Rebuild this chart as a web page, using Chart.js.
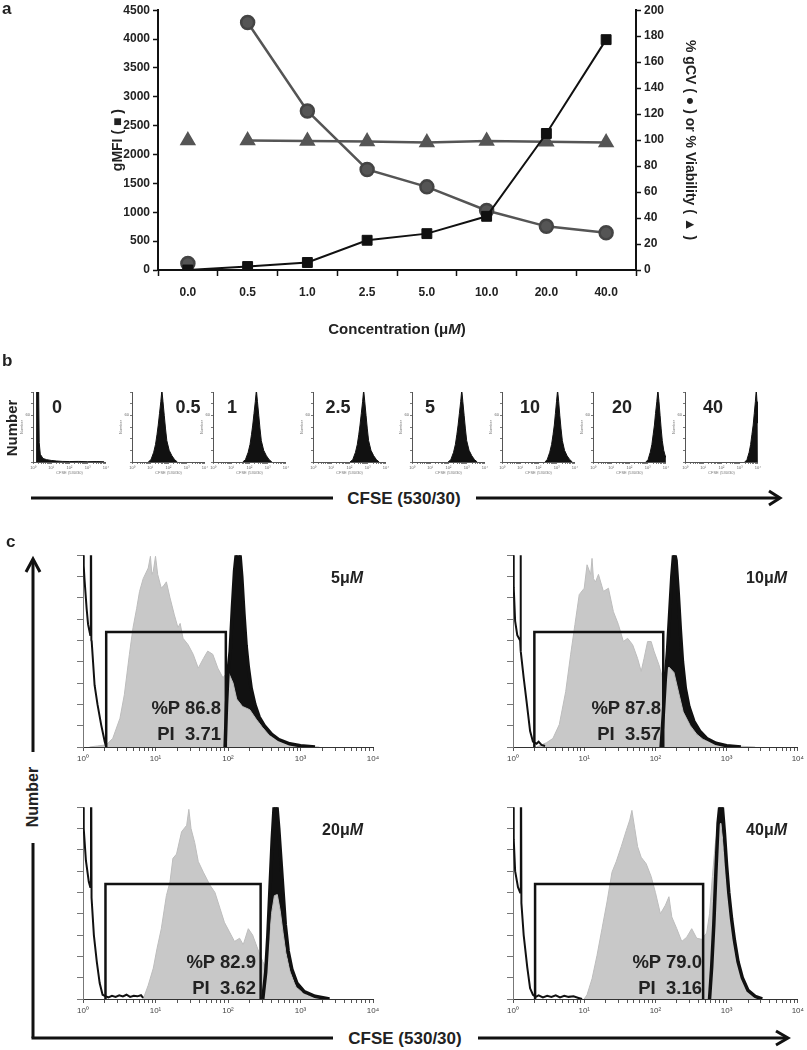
<!DOCTYPE html>
<html>
<head>
<meta charset="utf-8">
<script src="https://cdn.jsdelivr.net/npm/chart.js@4.4.1/dist/chart.umd.min.js"></script>
<style>
  body { margin: 0; background: #fff; }
  #fig { position: relative; width: 807px; height: 1050px; overflow: hidden; font-family: "Liberation Sans", Arial, sans-serif; color: #222; }
  #fig canvas { position: absolute; }
  .t { position: absolute; font-weight: bold; white-space: nowrap; line-height: 1; }
  .c { transform: translate(-50%, -50%); }
  .r { transform: translate(-100%, -50%); text-align: right; }
  .rot { transform: translate(-50%, -50%) rotate(-90deg); }
  svg { position: absolute; left: 0; top: 0; }
</style>
</head>
<body>
<div id="fig">
  <canvas id="chartA" width="807" height="320" style="left:0;top:0"></canvas>
  <div class="t" style="left:2px;top:0;font-size:17px">a</div>
  <div class="t c" style="left:397px;top:328px;font-size:15px">Concentration (μ<i>M</i>)</div>

  <div class="t" style="left:2px;top:352px;font-size:17px">b</div>
  <div class="t rot" style="left:11px;top:428px;font-size:15px">Number</div>
  <div class="t c" style="left:404px;top:498px;font-size:17px">CFSE (530/30)</div>

  <div class="t" style="left:6px;top:533px;font-size:17px">c</div>
  <div class="t rot" style="left:33px;top:797px;font-size:16px">Number</div>
  <div class="t c" style="left:405px;top:1038px;font-size:17px">CFSE (530/30)</div>

  <svg width="807" height="1050">
    <g stroke="#111" stroke-width="3" fill="none">
      <line x1="31" y1="498" x2="333" y2="498"/>
      <line x1="476" y1="498" x2="779" y2="498"/>
      <polyline points="769,491 780,498 769,505"/>
      <line x1="33" y1="562" x2="33" y2="752"/>
      <polyline points="26,572 33,559 40,572"/>
      <line x1="33" y1="843" x2="33" y2="1038"/>
      <line x1="31.5" y1="1038" x2="333" y2="1038"/>
      <line x1="478" y1="1038" x2="787" y2="1038"/>
      <polyline points="776,1031 788,1038 776,1045"/>
    </g>
  </svg>
</div>

<script>
// ---------- panel a ----------
const concLabels = ["0.0", "0.5", "1.0", "2.5", "5.0", "10.0", "20.0", "40.0"];
const gmfi = [0, 60, 130, 515, 630, 930, 2365, 3990];
const gcv = [5, 190.5, 122.4, 77.4, 64, 45.8, 33.6, 28.6];
const viability = [99.6, 99.6, 99.4, 98.9, 98.1, 99.4, 98.7, 98.1];

// ---------- panel b ----------
const bLabels = ["0", "0.5", "1", "2.5", "5", "10", "20", "40"];
// histogram points: [log10 CFSE, count]
const b0 = [[0.17,0],[0.2,18.5],[0.31,18.5],[0.34,5],[0.4,2],[0.55,0.9],[0.75,0.6],[1.0,0.4],[1.3,0.25],[1.6,0.15],[2.0,0.12],[2.5,0.15],[3.0,0.08],[3.5,0.12],[3.9,0.05]];
const b1 = [[0.89,0],[1.04,0.6],[1.19,2.5],[1.29,4.5],[1.37,7],[1.44,9.5],[1.51,12.5],[1.58,15.5],[1.64,18.5],[1.7,15.5],[1.77,12],[1.84,8.5],[1.91,5.5],[2.04,3],[2.19,1.6],[2.34,0.6],[2.49,0]];
const b2 = [[1.63,0],[1.78,0.6],[1.93,2.5],[2.03,4.5],[2.11,7],[2.18,9.5],[2.25,12.5],[2.32,15.5],[2.38,18.5],[2.44,15.5],[2.51,12],[2.58,8.5],[2.65,5.5],[2.78,3],[2.93,1.6],[3.08,0.6],[3.23,0]];
const b3 = [[2.03,0],[2.18,0.6],[2.33,2.5],[2.43,4.5],[2.51,7],[2.58,9.5],[2.65,12.5],[2.72,15.5],[2.78,18.5],[2.84,15.5],[2.91,12],[2.98,8.5],[3.05,5.5],[3.18,3],[3.33,1.6],[3.48,0.6],[3.63,0]];
const b4 = [[1.98,0],[2.13,0.6],[2.28,2.5],[2.38,4.5],[2.46,7],[2.53,9.5],[2.6,12.5],[2.67,15.5],[2.73,18.5],[2.79,15.5],[2.86,12],[2.93,8.5],[3.0,5.5],[3.13,3],[3.28,1.6],[3.43,0.6],[3.58,0]];
const b5 = [[2.35,0],[2.48,0.6],[2.62,2.5],[2.72,4.5],[2.8,7],[2.87,9.5],[2.93,12.5],[2.99,15.5],[3.05,18.5],[3.11,15.5],[3.17,12],[3.24,8.5],[3.31,5.5],[3.43,3],[3.57,1.6],[3.72,0.6],[3.86,0]];
const b6 = [[2.9,0],[3.02,0.6],[3.14,2.5],[3.23,4.5],[3.3,7],[3.37,9.5],[3.43,12.5],[3.5,15.5],[3.56,18.5],[3.62,15.5],[3.68,12],[3.74,8.5],[3.8,5.5],[3.88,3],[3.96,1.6],[4.0,1.2]];
const b7 = [[3.28,0],[3.4,0.6],[3.52,2.5],[3.6,4.5],[3.67,7],[3.74,9.5],[3.8,12.5],[3.86,15.5],[3.91,18.5],[3.95,15.5],[3.98,12.5],[4.0,10]];

// ---------- panel c ----------
const cLabels = ["5", "10", "20", "40"];
const pctP = ["86.8", "87.8", "82.9", "79.0"];
const pi = ["3.71", "3.57", "3.62", "3.16"];
const gateLo = [0.32, 0.30, 0.31, 0.31];
const gateHi = [1.97, 2.11, 2.45, 2.67];
const gateTop = [10.8, 10.8, 10.8, 10.8];

const gray5 = [[0.09,0],[0.2,0.1],[0.32,0.2],[0.41,0.8],[0.51,2.7],[0.57,4.9],[0.64,8.7],[0.69,11.2],[0.74,13],[0.78,14.6],[0.83,15.8],[0.9,16.8],[0.93,17.9],[0.95,16.2],[0.97,16.5],[1.0,17.9],[1.03,16.2],[1.08,14.9],[1.12,15.2],[1.15,15.5],[1.2,14],[1.26,12.4],[1.31,11.2],[1.34,11.6],[1.38,10.2],[1.45,9.6],[1.52,8.7],[1.59,7.4],[1.66,8.3],[1.72,9.0],[1.79,8.7],[1.86,7.4],[1.93,6.5],[2.0,7.1],[2.07,6],[2.12,4.5],[2.2,3.8],[2.3,3.5],[2.39,2.6],[2.48,1.8],[2.57,1.1],[2.7,0.6],[2.85,0.25],[3.03,0.1],[3.26,0]];
const ctrl5 = [[1.96,0],[1.98,4],[2.0,7],[2.03,9],[2.06,13],[2.09,16.5],[2.12,18.5],[2.16,18.5],[2.19,16],[2.22,12.5],[2.25,9.5],[2.28,7.5],[2.32,5.5],[2.37,4],[2.43,2.8],[2.5,2],[2.6,1.2],[2.7,0.7],[2.85,0.3],[3.0,0.12],[3.2,0]];
const debris5 = [[0.0,30],[0.01,17],[0.02,15.8],[0.05,13],[0.07,11.5],[0.1,10.5],[0.108,30],[0.115,10],[0.12,9.9],[0.16,5.8],[0.2,4],[0.25,2.1],[0.3,0.5],[0.32,0]];

const gray10 = [[0.33,0],[0.47,0.4],[0.56,0.8],[0.65,2.1],[0.74,5.2],[0.81,8.7],[0.87,11.5],[0.93,14.3],[1.0,14.9],[1.04,17.1],[1.09,16.2],[1.11,17.7],[1.13,15.8],[1.16,15.5],[1.2,16.2],[1.27,14.6],[1.34,14.9],[1.41,12.7],[1.48,11.5],[1.55,9.9],[1.61,10.2],[1.68,9.6],[1.75,8.3],[1.8,7.1],[1.84,8.3],[1.89,9.9],[1.94,9.9],[1.98,9],[2.05,7.7],[2.1,6.5],[2.14,7.1],[2.19,7.5],[2.26,7],[2.33,5],[2.39,3.3],[2.49,2],[2.58,1.2],[2.67,0.7],[2.85,0.3],[3.13,0.1],[3.4,0]];
const ctrl10 = [[2.08,0],[2.11,3],[2.14,6.5],[2.17,9],[2.2,12.5],[2.23,16],[2.26,18.5],[2.29,17.5],[2.32,14.5],[2.35,11],[2.38,8],[2.42,5.5],[2.47,3.8],[2.54,2.4],[2.62,1.5],[2.72,0.8],[2.85,0.35],[3.0,0.12],[3.2,0]];
const debris10 = [[0.0,30],[0.01,15],[0.03,11.8],[0.06,10.5],[0.1,10],[0.105,30],[0.112,9],[0.15,6.5],[0.19,4.3],[0.24,1.5],[0.28,0.5],[0.33,0.3],[0.36,0.5],[0.4,0.2],[0.45,0.1]];

const gray20 = [[0.83,0],[0.9,1.3],[0.97,2.9],[1.02,4.7],[1.08,6.6],[1.15,9.7],[1.2,11],[1.24,13.2],[1.29,13.6],[1.36,15.7],[1.43,16.3],[1.46,17.8],[1.49,16],[1.54,14.7],[1.59,12.9],[1.66,11.9],[1.75,10.7],[1.82,10],[1.89,8.5],[1.95,7.2],[2.02,6.3],[2.09,5.4],[2.16,5.7],[2.21,5.1],[2.28,6.6],[2.34,6],[2.41,4.7],[2.48,3.5],[2.53,2.9],[2.56,5],[2.6,8],[2.64,9.7],[2.68,9.8],[2.72,8.3],[2.76,6.2],[2.8,4.3],[2.86,2.5],[2.94,1.1],[3.05,0.5],[3.2,0.15],[3.4,0]];
const ctrl20 = [[2.48,0],[2.52,2.5],[2.55,6],[2.58,10.5],[2.61,15],[2.64,18.5],[2.67,18.5],[2.7,16],[2.73,13],[2.76,10],[2.79,7],[2.83,4.5],[2.88,2.8],[2.95,1.5],[3.05,0.7],[3.2,0.25],[3.4,0]];
const debris20 = [[0.0,30],[0.01,16],[0.04,13],[0.08,11],[0.1,10.5],[0.11,30],[0.118,9.5],[0.15,6],[0.19,3.5],[0.23,1.5],[0.27,0.4],[0.3,0.3],[0.35,0.15],[0.4,0.3],[0.45,0.2],[0.5,0.35],[0.55,0.25],[0.6,0.4],[0.65,0.2],[0.7,0.3],[0.75,0.25],[0.8,0.35],[0.83,0.1]];

const gray40 = [[1.0,0],[1.04,0.4],[1.11,1.9],[1.18,4.1],[1.25,6.6],[1.32,9.1],[1.39,11.9],[1.45,12.9],[1.52,14.3],[1.59,15.8],[1.64,16.8],[1.67,17.7],[1.71,16],[1.75,14.3],[1.8,13.3],[1.87,12.7],[1.94,11.5],[2.0,10],[2.07,8],[2.14,8.8],[2.19,9.6],[2.23,7.7],[2.3,6.6],[2.37,5.4],[2.44,5.8],[2.51,6.6],[2.58,5.7],[2.65,5.6],[2.72,6.2],[2.76,8],[2.8,11.5],[2.84,14.5],[2.88,16.3],[2.92,16.5],[2.96,14],[3.0,11],[3.04,8.5],[3.08,6],[3.13,4],[3.2,2.2],[3.28,1],[3.38,0.3],[3.5,0]];
const ctrl40 = [[2.76,0],[2.79,3],[2.82,7],[2.85,12],[2.88,16.5],[2.91,18.5],[2.94,18],[2.97,15.5],[3.0,12.5],[3.03,10],[3.07,7.5],[3.11,5.5],[3.16,3.5],[3.22,2],[3.3,0.8],[3.4,0.25],[3.5,0]];
const debris40 = [[0.0,30],[0.01,15],[0.03,12],[0.07,10.5],[0.1,10],[0.11,30],[0.118,9],[0.15,6],[0.2,3],[0.24,1],[0.28,0.4],[0.32,0.2],[0.36,0.35],[0.42,0.15],[0.48,0.3],[0.54,0.2],[0.6,0.35],[0.66,0.15],[0.72,0.3],[0.78,0.2],[0.85,0.25],[0.92,0.1],[0.97,0]];

const narrow = '"Liberation Sans Narrow", "Liberation Sans", Arial, sans-serif';
const sup = ["\u2070", "\u00b9", "\u00b2", "\u00b3", "\u2074"];
const noUi = { responsive: false, animation: false, events: [] };
const hidePlugins = { legend: { display: false }, tooltip: { enabled: false } };

// log decade ticks 1..9 per decade on a linear axis of log10 units
function logTicks(axis) {
  const t = [];
  for (let n = 0; n < 4; n++) for (let k = 1; k < 10; k++) t.push({ value: n + Math.log10(k) });
  t.push({ value: 4 });
  axis.ticks = t;
}

// panel a
new Chart(document.getElementById("chartA"), {
  type: "line",
  data: {
    labels: concLabels,
    datasets: [
      { data: gmfi, yAxisID: "y", borderColor: "#111", backgroundColor: "#111", borderWidth: 2,
        pointStyle: "rect", pointRadius: 7, pointBorderWidth: 1, order: 0 },
      { data: gcv, yAxisID: "y2", borderColor: "#555", backgroundColor: "#555", borderWidth: 2.5,
        pointStyle: "circle", pointRadius: 6.5, pointBorderColor: "#444", order: 1,
        segment: { borderColor: c => c.p0DataIndex === 0 ? "rgba(0,0,0,0)" : undefined } },
      { data: viability, yAxisID: "y2", borderColor: "#555", backgroundColor: "#555", borderWidth: 2.5,
        pointStyle: "triangle", pointRadius: 7, order: 2,
        segment: { borderColor: c => c.p0DataIndex === 0 ? "rgba(0,0,0,0)" : undefined } }
    ]
  },
  options: {
    ...noUi,
    plugins: hidePlugins,
    layout: { padding: { left: 106, right: 105, top: 7, bottom: 0 } },
    scales: {
      x: {
        offset: true,
        grid: { offset: true, drawOnChartArea: false, tickLength: 6, tickColor: "#111", tickWidth: 1.5 },
        border: { color: "#111", width: 2 },
        ticks: { color: "#222", padding: 9, font: { family: narrow, size: 12, weight: "bold" } },
        afterFit: a => { a.height = 50; }
      },
      y: {
        position: "left", min: 0, max: 4500,
        ticks: { stepSize: 500, color: "#222", padding: 3, callback: v => String(v),
          font: { family: narrow, size: 12, weight: "bold" } },
        grid: { drawOnChartArea: false, tickLength: 5, tickColor: "#111", tickWidth: 1.5 },
        border: { color: "#111", width: 2 },
        title: { display: true, text: "gMFI ( \u25a0 )", color: "#222", padding: { top: 4, bottom: 0 },
          font: { family: "Liberation Sans, Arial, sans-serif", size: 14, weight: "bold" } },
        afterFit: a => { a.width = 52; }
      },
      y2: {
        position: "right", min: 0, max: 200,
        ticks: { stepSize: 20, color: "#222", padding: 3, callback: v => String(v),
          font: { family: narrow, size: 12, weight: "bold" } },
        grid: { drawOnChartArea: false, tickLength: 5, tickColor: "#111", tickWidth: 1.5 },
        border: { color: "#111", width: 2 },
        title: { display: true, text: "% gCV ( \u25cf ) or % Viability ( \u25b2 )", color: "#222", padding: { top: 4, bottom: 0 },
          font: { family: "Liberation Sans, Arial, sans-serif", size: 14, weight: "bold" } },
        afterFit: a => { a.width = 66; }
      }
    }
  }
});

const fig = document.getElementById("fig");
function addText(html, cls, left, top, size) {
  const d = document.createElement("div");
  d.className = "t " + cls;
  d.style.left = left + "px";
  d.style.top = top + "px";
  d.style.fontSize = size + "px";
  d.innerHTML = html;
  fig.appendChild(d);
}
function addCanvas(left, top, w, h) {
  const cv = document.createElement("canvas");
  cv.width = w; cv.height = h;
  cv.style.left = left + "px"; cv.style.top = top + "px";
  fig.appendChild(cv);
  return cv;
}

// panel b
const bData = [b0, b1, b2, b3, b4, b5, b6, b7];
const bAxisX = [33, 132, 213, 313, 412, 502, 593, 685];
const bLabelX = [57, 188, 232, 338, 430, 530, 622, 713];
bData.forEach((pts, i) => {
  const cv = addCanvas(bAxisX[i] - 14, 385, 91, 90);
  new Chart(cv, {
    type: "line",
    data: { datasets: [{ data: pts, borderColor: "#111", backgroundColor: "#111", borderWidth: 1,
      pointRadius: 0, fill: "origin" }] },
    options: {
      ...noUi,
      plugins: hidePlugins,
      layout: { padding: { left: 0, right: 4, top: 7, bottom: 0 } },
      scales: {
        x: { type: "linear", min: 0, max: 4, afterBuildTicks: logTicks,
          ticks: { autoSkip: false, maxRotation: 0, padding: 1, color: "#666", font: { size: 4 },
            callback: v => Number.isInteger(v) ? "10" + sup[v] : "" },
          grid: { drawOnChartArea: false, tickLength: 2, tickColor: "#777" },
          border: { color: "#555", width: 1 },
          title: { display: true, text: "CFSE (530/30)", padding: 0, color: "#777", font: { size: 4 } },
          afterFit: a => { a.height = 13; } },
        y: { min: 0, max: 18,
          ticks: { stepSize: 1, padding: 1, color: "#666", font: { size: 4 },
            callback: v => v % 4 === 0 && v > 0 ? String(v * 5) : "" },
          grid: { drawOnChartArea: false, tickLength: 2, tickColor: "#777" },
          border: { color: "#555", width: 1 },
          title: { display: true, text: "Number", padding: 0, color: "#777", font: { size: 4 } },
          afterFit: a => { a.width = 14; } }
      }
    }
  });
  addText(bLabels[i], "c", bLabelX[i], 407, 18);
});

// panel c
const cSets = [
  { gray: gray5, ctrl: ctrl5, debris: debris5 },
  { gray: gray10, ctrl: ctrl10, debris: debris10 },
  { gray: gray20, ctrl: ctrl20, debris: debris20 },
  { gray: gray40, ctrl: ctrl40, debris: debris40 }
];
const cBox = [
  { left: 40, top: 545, w: 345, padR: 12, labelX: 363, labelY: 578, textX: 221, textY: 708 },
  { left: 470, top: 545, w: 337, padR: 4, labelX: 787, labelY: 578, textX: 661, textY: 708 },
  { left: 40, top: 797, w: 345, padR: 12, labelX: 363, labelY: 830, textX: 256, textY: 962 },
  { left: 470, top: 797, w: 337, padR: 4, labelX: 787, labelY: 830, textX: 702, textY: 962 }
];
cSets.forEach((s, i) => {
  const b = cBox[i];
  const cv = addCanvas(b.left, b.top, b.w, 230);
  const gate = [[gateLo[i], 0], [gateLo[i], gateTop[i]], [gateHi[i], gateTop[i]], [gateHi[i], 0]];
  new Chart(cv, {
    type: "line",
    data: { datasets: [
      { data: gate, borderColor: "#111", borderWidth: 2.5, pointRadius: 0, fill: false, order: 0 },
      { data: s.debris, borderColor: "#111", borderWidth: 2, pointRadius: 0, fill: false, order: 0 },
      { data: s.ctrl, borderColor: "#111", borderWidth: 3.5, pointRadius: 0, fill: false, order: 1 },
      { data: s.gray, borderColor: "#bdbdbd", backgroundColor: "#c8c8c8", borderWidth: 1, pointRadius: 0, fill: "origin", order: 2 },
      { data: s.ctrl, borderColor: "#111", backgroundColor: "#111", borderWidth: 1, pointRadius: 0, fill: "origin", order: 3 }
    ] },
    options: {
      ...noUi,
      plugins: hidePlugins,
      layout: { padding: { left: 0, right: b.padR, top: 10, bottom: 0 } },
      scales: {
        x: { type: "linear", min: 0, max: 4, afterBuildTicks: logTicks,
          ticks: { autoSkip: false, maxRotation: 0, padding: 3, color: "#444", font: { size: 8 },
            callback: v => Number.isInteger(v) ? "10" + sup[v] : "" },
          grid: { drawOnChartArea: false, tickLength: 4, tickColor: "#555" },
          border: { color: "#333", width: 1 },
          afterFit: a => { a.height = 28; } },
        y: { min: 0, max: 18,
          ticks: { stepSize: 1, display: true, callback: () => "" },
          grid: { drawOnChartArea: false, tickLength: 6, tickColor: "#777" },
          border: { color: "#777", width: 1 },
          afterFit: a => { a.width = 43; } }
      }
    }
  });
  addText(cLabels[i] + "μ<i>M</i>", "r", b.labelX, b.labelY, 16);
  addText("%P " + pctP[i], "r", b.textX, b.textY, 18.5);
  addText("PI&nbsp; " + pi[i], "r", b.textX, b.textY + 26, 18.5);
});
</script>
</body>
</html>
